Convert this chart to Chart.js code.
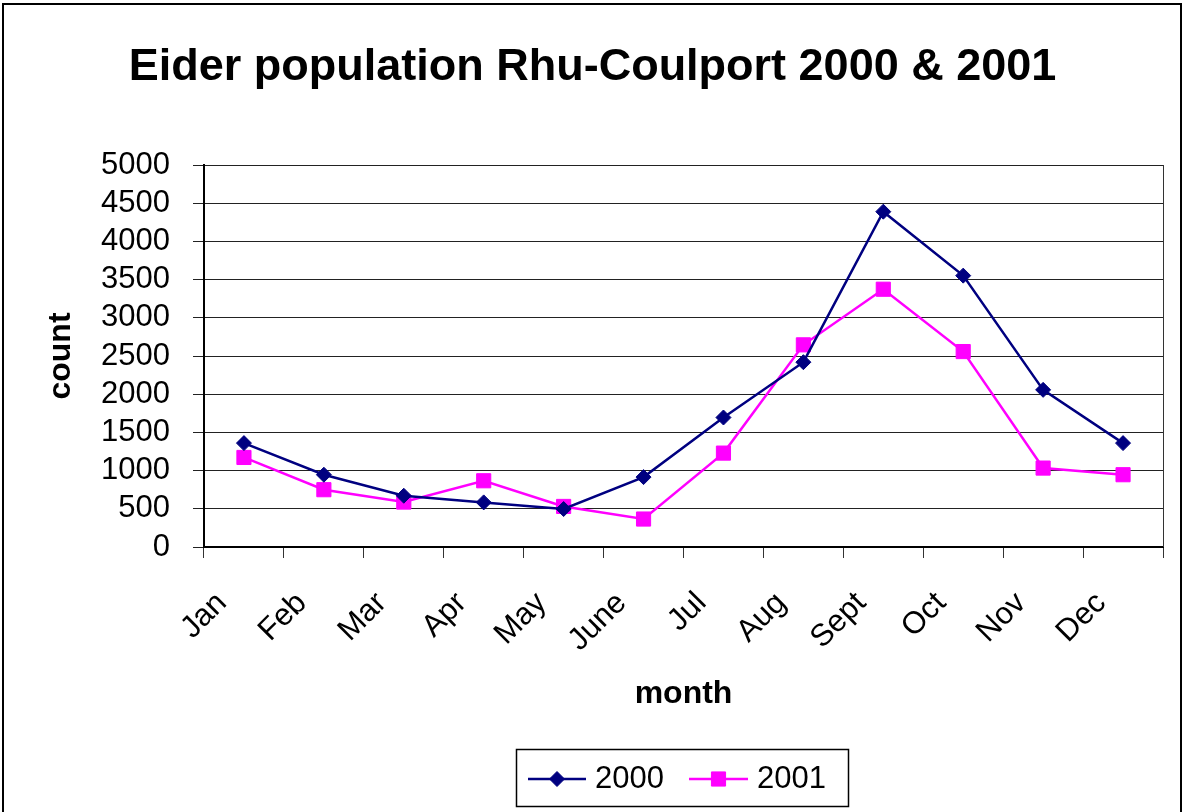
<!DOCTYPE html>
<html>
<head>
<meta charset="utf-8">
<script src="https://cdn.jsdelivr.net/npm/chart.js@4.4.0/dist/chart.umd.min.js"></script>
<style>
html,body{margin:0;padding:0;background:#fff;}
#wrap{width:1185px;height:812px;position:relative;}
</style>
</head>
<body>
<div id="wrap"><canvas id="c"></canvas></div>
<script>
const months = ['Jan','Feb','Mar','Apr','May','June','Jul','Aug','Sept','Oct','Nov','Dec'];
const counts2000 = [1360, 946, 671, 584, 497, 915, 1695, 2419, 4389, 3552, 2057, 1360];
const counts2001 = [1172, 750, 588, 867, 531, 366, 1229, 2646, 3374, 2558, 1033, 946];
const seriesNames = ['2000', '2001'];
const yMin = 0, yMax = 5000, yStep = 500;
const chartTitle = 'Eider population Rhu-Coulport 2000 & 2001';
const xTitle = 'month';
const yTitle = 'count';

const FONT = '"Liberation Sans", Arial, sans-serif';
Chart.defaults.font.family = FONT;
Chart.defaults.color = '#000';

const framePlugin = {
  id: 'frame',
  afterDraw(chart) {
    const ctx = chart.ctx;
    const a = chart.chartArea;
    ctx.save();
    // outer chart border
    ctx.strokeStyle = '#000';
    ctx.lineWidth = 2;
    ctx.strokeRect(3, 4, 1178, 830);
    // plot area right border
    ctx.strokeStyle = '#333';
    ctx.lineWidth = 1;
    ctx.beginPath();
    ctx.moveTo(Math.round(a.right) + 0.5, a.top);
    ctx.lineTo(Math.round(a.right) + 0.5, a.bottom);
    ctx.stroke();
    // legend
    const bx = 516, by = 749, bw = 332, bh = 57;
    ctx.fillStyle = '#fff';
    ctx.fillRect(bx, by, bw, bh);
    ctx.strokeStyle = '#000';
    ctx.lineWidth = 1.5;
    ctx.strokeRect(bx + 0.5, by + 0.5, bw, bh);
    const cy = by + 30;
    const items = [{x0: 528, x1: 586, tx: 595}, {x0: 689, x1: 748, tx: 757}];
    chart.data.datasets.forEach((ds, i) => {
      const it = items[i];
      ctx.strokeStyle = ds.borderColor;
      ctx.lineWidth = ds.borderWidth;
      ctx.beginPath();
      ctx.moveTo(it.x0, cy);
      ctx.lineTo(it.x1, cy);
      ctx.stroke();
      ctx.fillStyle = ds.backgroundColor;
      ctx.strokeStyle = ds.borderColor;
      ctx.lineWidth = 1;
      Chart.helpers.drawPoint(ctx, {pointStyle: ds.pointStyle, radius: ds.pointRadius, rotation: 0, borderWidth: 1}, (it.x0 + it.x1) / 2, cy);
      ctx.fillStyle = '#000';
      ctx.font = '31px ' + FONT;
      ctx.textAlign = 'left';
      ctx.textBaseline = 'middle';
      ctx.fillText(ds.label, it.tx, cy);
    });
    ctx.restore();
  }
};

new Chart(document.getElementById('c'), {
  type: 'line',
  data: {
    labels: months,
    datasets: [
      {
        label: seriesNames[0],
        data: counts2000,
        borderColor: '#000080',
        backgroundColor: '#000080',
        borderWidth: 2.5,
        pointStyle: 'rectRot',
        pointRadius: 7.5,
        pointBorderWidth: 1,
        tension: 0,
        yAxisID: 'y'
      },
      {
        label: seriesNames[1],
        data: counts2001,
        borderColor: '#FF00FF',
        backgroundColor: '#FF00FF',
        borderWidth: 2.5,
        pointStyle: 'rect',
        pointRadius: 10,
        pointBorderWidth: 1,
        tension: 0,
        yAxisID: 'y'
      }
    ]
  },
  options: {
    responsive: true,
    maintainAspectRatio: false,
    animation: false,
    layout: {padding: 0},
    plugins: {
      legend: {display: false},
      tooltip: {enabled: false},
      title: {
        display: true,
        text: chartTitle,
        color: '#000',
        font: {size: 45, weight: 'bold', family: FONT},
        padding: {top: 41, bottom: 70}
      }
    },
    scales: {
      x: {
        type: 'category',
        offset: true,
        afterFit: s => { s.height = 265; },
        grid: {display: true, drawOnChartArea: false, offset: true, tickLength: 11, color: '#333'},
        border: {display: true, color: '#000', width: 2},
        ticks: {autoSkip: false, minRotation: 45, maxRotation: 45, padding: 27, labelOffset: -22, font: {size: 31}, color: '#000'},
        title: {display: true, text: xTitle, font: {size: 32, weight: 'bold'}, color: '#000', padding: {top: 0, bottom: 99}}
      },
      y: {
        type: 'linear',
        position: 'left',
        min: yMin,
        max: yMax,
        afterFit: s => { s.width = 204; },
        grid: {color: '#222', tickLength: 11},
        border: {display: true, color: '#000', width: 2},
        ticks: {stepSize: yStep, autoSkip: false, padding: 23, font: {size: 31}, color: '#000', callback: v => String(v)},
        title: {display: true, text: yTitle, font: {size: 32, weight: 'bold'}, color: '#000', padding: {top: 42, bottom: 0}}
      },
      yRight: {
        type: 'linear',
        position: 'right',
        display: true,
        afterFit: s => { s.width = 22; },
        grid: {display: false},
        border: {display: false},
        ticks: {display: false}
      }
    }
  },
  plugins: [framePlugin]
});
</script>
</body>
</html>
